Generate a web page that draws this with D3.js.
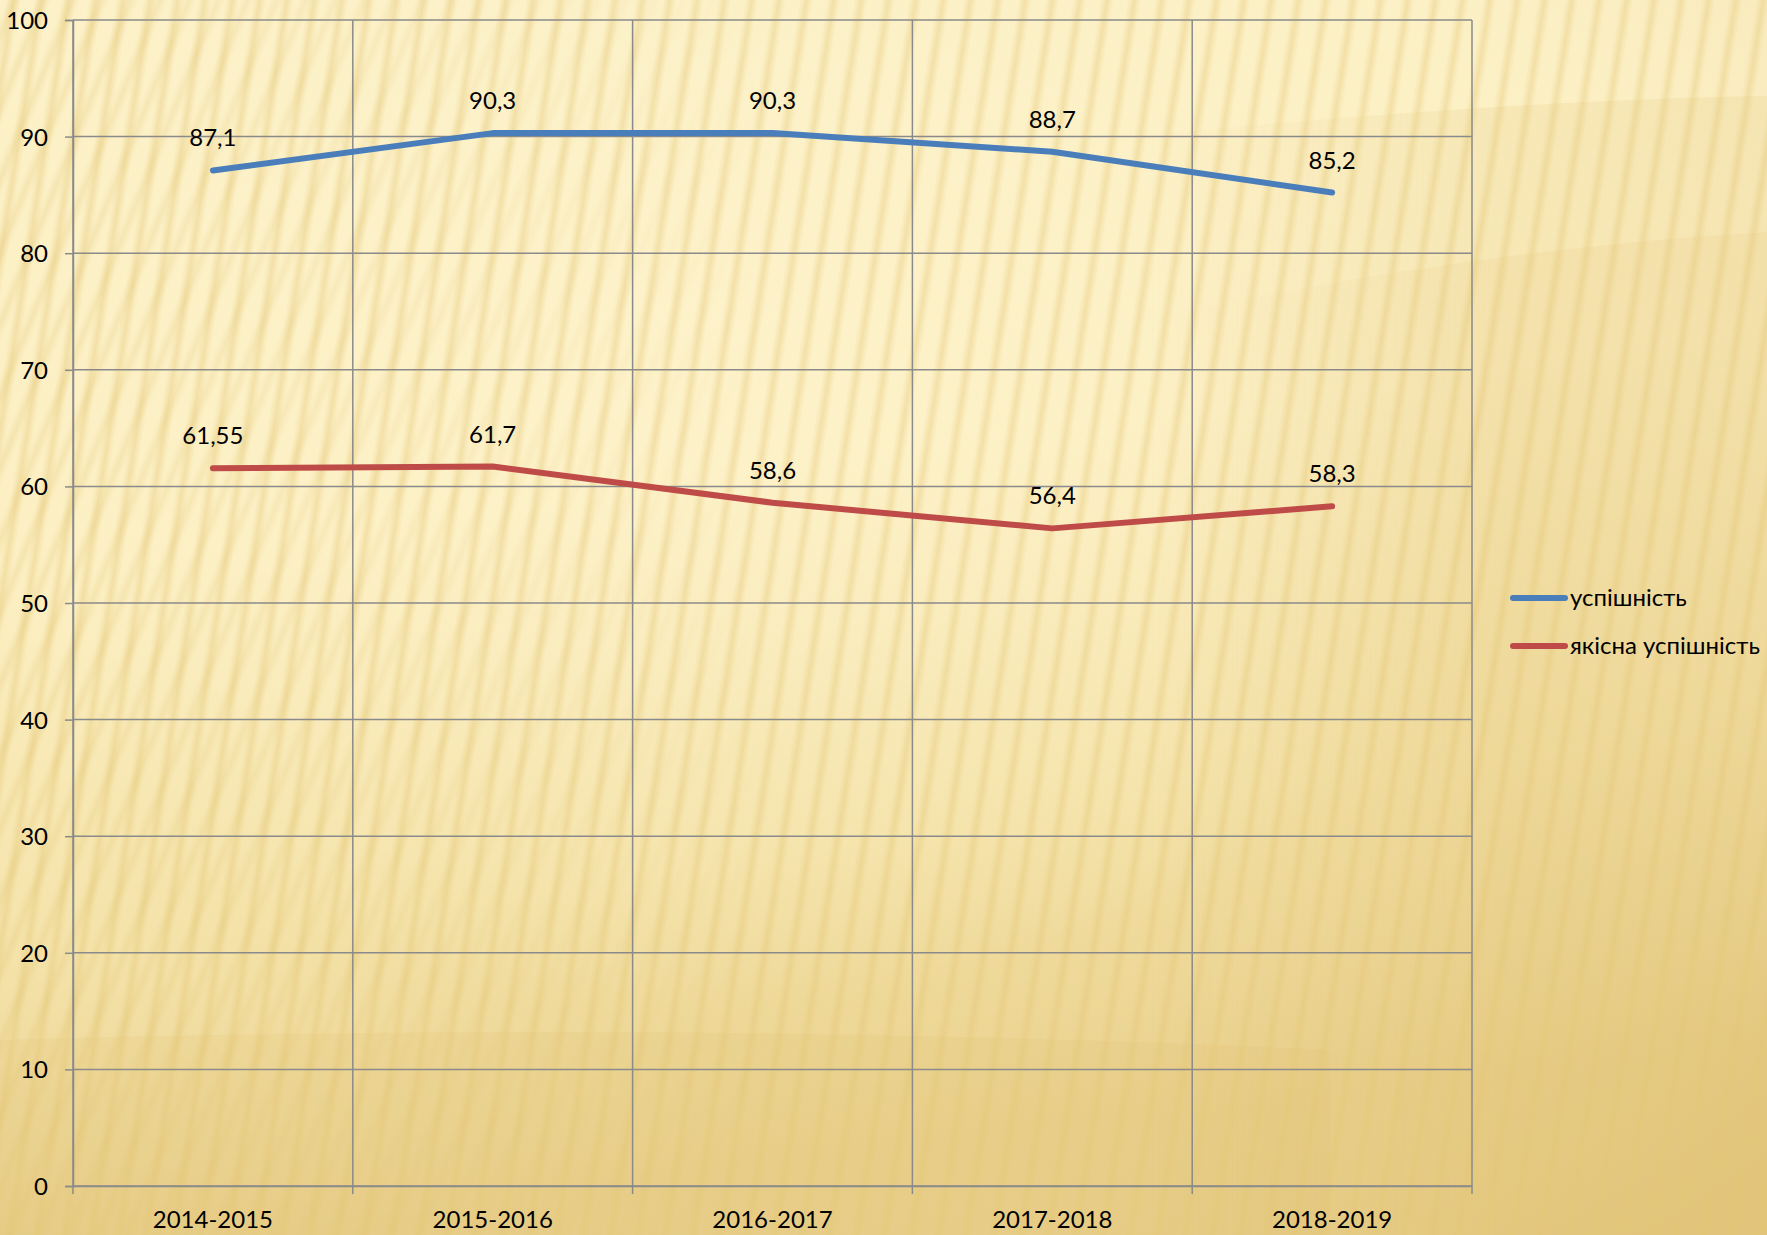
<!DOCTYPE html>
<html>
<head>
<meta charset="utf-8">
<script src="https://cdn.jsdelivr.net/npm/d3@7"></script>
<style>
html,body{margin:0;padding:0;background:#f8e9b8;}
svg{display:block;}
text{font-family:Lato,"Open Sans",sans-serif;fill:#000;}
</style>
</head>
<body>
<svg id="chart" width="1767" height="1235"></svg>
<script>
const categories = ["2014-2015","2015-2016","2016-2017","2017-2018","2018-2019"];
const uspishnist = [87.1, 90.3, 90.3, 88.7, 85.2];
const yakisna = [61.55, 61.7, 58.6, 56.4, 58.3];
const uspishnistLabels = ["87,1","90,3","90,3","88,7","85,2"];
const yakisnaLabels = ["61,55","61,7","58,6","56,4","58,3"];
const yTicks = [0,10,20,30,40,50,60,70,80,90,100];
const seriesNames = ["успішність","якісна успішність"];
const seriesColors = ["#4A7EBB","#BE4B48"];

const W = 1767, H = 1235;
const m = {left:73, right:1472, top:20, bottom:1186};
const FS = 24;
const svg = d3.select("#chart");
const defs = svg.append("defs");

// background gradients
const bg = defs.append("linearGradient").attr("id","bgGrad").attr("x1",0).attr("y1",0).attr("x2",0.2).attr("y2",1);
[[0,"#FCF1C8"],[0.45,"#FCEFC2"],[0.75,"#F4E2A8"],[1,"#E8CE88"]].forEach(s=>bg.append("stop").attr("offset",s[0]).attr("stop-color",s[1]));
const rg = defs.append("radialGradient").attr("id","vign").attr("cx",0.4).attr("cy",0.35).attr("r",0.85);
[[0,"#FFF6D6",0.35],[0.55,"#FFF6D6",0],[1,"#D9B96A",0.3]].forEach(s=>rg.append("stop").attr("offset",s[0]).attr("stop-color",s[1]).attr("stop-opacity",s[2]));

// stripe pattern
const sg = defs.append("linearGradient").attr("id","stripeGrad").attr("x1",0).attr("x2",1).attr("y1",0).attr("y2",0);
[[0,0],[0.25,0.0],[0.5,0.38],[0.75,0.0],[1,0]].forEach(s=>sg.append("stop").attr("offset",s[0]).attr("stop-color","#E3C673").attr("stop-opacity",s[1]));
const pat = defs.append("pattern").attr("id","stripes").attr("patternUnits","userSpaceOnUse")
  .attr("width",27).attr("height",40).attr("patternTransform","rotate(9)");
pat.append("rect").attr("width",27).attr("height",40).attr("fill","url(#stripeGrad)");
const pat2 = defs.append("pattern").attr("id","stripes2").attr("patternUnits","userSpaceOnUse")
  .attr("width",27).attr("height",40).attr("patternTransform","rotate(22)");
pat2.append("rect").attr("width",27).attr("height",40).attr("fill","url(#stripeGrad)");
const fadeL = defs.append("linearGradient").attr("id","fadeL").attr("x1",0).attr("x2",1).attr("y1",0).attr("y2",0);
[[0,0.7],[0.25,0.35],[0.45,0]].forEach(s=>fadeL.append("stop").attr("offset",s[0]).attr("stop-color","#fff").attr("stop-opacity",s[1]));
defs.append("mask").attr("id","maskL").append("rect").attr("width",W).attr("height",H).attr("fill","url(#fadeL)");
const fadeR = defs.append("linearGradient").attr("id","fadeR").attr("gradientUnits","userSpaceOnUse").attr("x1",1150).attr("x2",1500).attr("y1",0).attr("y2",0);
[[0,0],[1,1]].forEach(s=>fadeR.append("stop").attr("offset",s[0]).attr("stop-color","#fff").attr("stop-opacity",s[1]));
defs.append("mask").attr("id","maskR").append("rect").attr("width",W).attr("height",H).attr("fill","url(#fadeR)");

svg.append("rect").attr("width",W).attr("height",H).attr("fill","url(#bgGrad)");
svg.append("rect").attr("width",W).attr("height",H).attr("fill","url(#vign)");
// right-side banded arcs
const bands = svg.append("g").attr("mask","url(#maskR)");
bands.append("path").attr("d",`M1100,${H} L1100,330 Q1450,250 ${W},232 L${W},${H} Z`).attr("fill","#DDBF6E").attr("opacity",0.28);
bands.append("path").attr("d",`M1100,330 L1100,140 Q1500,100 ${W},96 L${W},232 Q1450,250 1100,330 Z`).attr("fill","#E8D08A").attr("opacity",0.25);
svg.append("path").attr("d",`M0,${H} L0,1040 Q700,1020 1330,1050 L1330,${H} Z`).attr("fill","#DDBF6E").attr("opacity",0.15);
svg.append("rect").attr("width",W).attr("height",H).attr("fill","url(#stripes)");
svg.append("rect").attr("width",W).attr("height",H).attr("fill","url(#stripes2)").attr("mask","url(#maskL)");

// scales
const x = d3.scaleBand().domain(categories).range([m.left, m.right]).padding(0);
const y = d3.scaleLinear().domain([0,100]).range([m.bottom, m.top]);
const gridColor = "#8A8A8A";

// y axis
const yAxis = d3.axisLeft(y).tickValues(yTicks).tickSize(8).tickPadding(17).tickFormat(d3.format("d"));
const gy = svg.append("g").attr("transform",`translate(${m.left},0)`).call(yAxis);
gy.select(".domain").attr("stroke",gridColor).attr("stroke-width",1.5);
gy.selectAll(".tick line").attr("stroke",gridColor).attr("stroke-width",1.5);
gy.selectAll(".tick text").attr("font-size",FS).attr("font-family","Lato").attr("fill","#000").attr("dy","0.35em");
svg.append("g").selectAll("line").data(yTicks).join("line")
  .attr("x1",m.left).attr("x2",m.right).attr("y1",d=>y(d)).attr("y2",d=>y(d))
  .attr("stroke",gridColor).attr("stroke-width",1.5);

// vertical gridlines + x axis
const xb = categories.map(c=>x(c)).concat([m.right]);
svg.append("g").selectAll("line").data(xb).join("line")
  .attr("x1",d=>d).attr("x2",d=>d).attr("y1",m.top).attr("y2",m.bottom+8)
  .attr("stroke",gridColor).attr("stroke-width",1.5);
const xAxis = d3.axisBottom(x).tickSize(0).tickPadding(25);
const gx = svg.append("g").attr("transform",`translate(0,${m.bottom})`).call(xAxis);
gx.select(".domain").attr("stroke",gridColor).attr("stroke-width",1.5);
gx.selectAll(".tick text").attr("font-size",FS).attr("font-family","Lato").attr("fill","#000");

const cx = c => x(c) + x.bandwidth()/2;
const line = d3.line().x((d,i)=>cx(categories[i])).y(d=>y(d));
const series = [uspishnist, yakisna];
const labels = [uspishnistLabels, yakisnaLabels];
series.forEach((s,k)=>{
  svg.append("path").datum(s).attr("d",line).attr("fill","none")
    .attr("stroke",seriesColors[k]).attr("stroke-width",6)
    .attr("stroke-linecap","round").attr("stroke-linejoin","round");
  svg.append("g").selectAll("text").data(s).join("text")
    .attr("x",(d,i)=>cx(categories[i])).attr("y",d=>y(d)-24)
    .attr("text-anchor","middle").attr("font-size",FS)
    .text((d,i)=>labels[k][i]);
});

// legend
const lg = svg.append("g");
seriesNames.forEach((n,k)=>{
  const ly = 598 + k*48;
  lg.append("line").attr("x1",1513).attr("x2",1565).attr("y1",ly).attr("y2",ly)
    .attr("stroke",seriesColors[k]).attr("stroke-width",6).attr("stroke-linecap","round");
  lg.append("text").attr("x",1570).attr("y",ly).attr("dy","0.35em").attr("font-size",FS).text(n);
});
</script>
</body>
</html>
